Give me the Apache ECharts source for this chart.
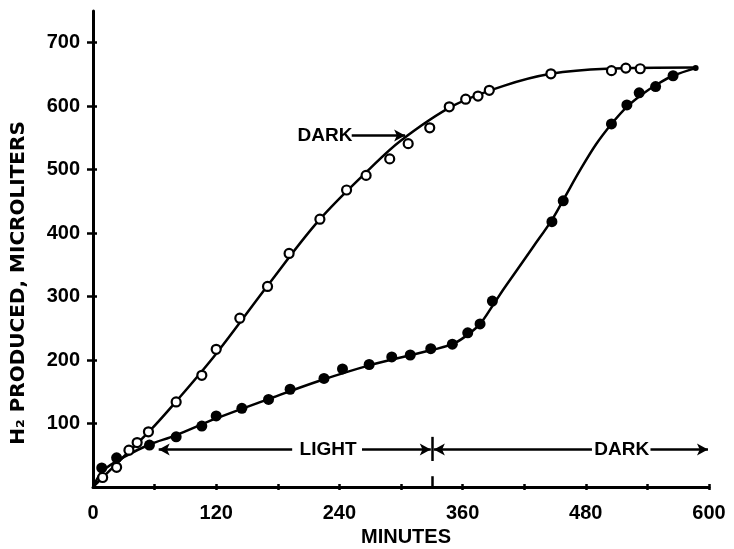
<!DOCTYPE html>
<html>
<head>
<meta charset="utf-8">
<script src="https://cdn.jsdelivr.net/npm/echarts@6/dist/echarts.min.js"></script>
<style>
  html, body { margin: 0; padding: 0; background: #fff; }
  #chart { width: 734px; height: 549px; }
</style>
</head>
<body>
<div id="chart"></div>
<script>
// measured points, open circles (kept in the dark)
const darkPts = [[9.4,15],[23,31],[35,58],[43,70],[54,87],[81,134],[106,176],[120,217],[143,266],[170,316],[191,368],[221,422],[247,468],[266,491],[289,517],[307,541],[328,566],[347,599],[363,611],[375,616],[386,625],[446,651],[505,656],[519,660],[533,659]];
// measured points, filled circles (light, then dark after 330 min)
const lightDarkPts = [[8.5,30],[23,46],[55,66],[81,79],[106,96],[120,112],[145,124],[171,138],[192,154],[225,171],[243,186],[269,193],[291,205],[309,208],[329,218],[350,225],[365,243],[377,257],[389,293],[447,418],[458,451],[505,572],[520,602],[532,621],[548,631],[565,648]];

// hand drawn curves
const darkCurve = [[0,0],[25,40],[55,88],[80,133],[120,210],[170,317],[220,420],[270,502],[300,546],[350,600],[400,632],[446,651],[500,659],[587,661]];
const lightDarkCurve = [[0,0],[10,26],[30,47],[55,67],[80,81],[120,108],[170,138],[220,167],[270,192],[320,212],[350,225],[365,240],[377,257],[389,285],[400,312],[413,342],[429,379],[447,421],[460,458],[474,498],[490,540],[505,572],[520,599],[535,619],[550,635],[565,648],[587,660]];
const endPoint = [[587,660]];

const xTicks = [60,120,180,240,300,360,420,480,540,600];
const xLabels = [0,120,240,360,480,600];
const yTicks = [100,200,300,400,500,600,700];
const switchMin = 330;

const tickFont = { color: '#000', fontFamily: 'Liberation Sans', fontWeight: 'bold', fontSize: 20 };
const annFont = { color: '#000', fontFamily: 'Liberation Sans', fontWeight: 'bold', fontSize: 19 };

let chart = echarts.init(document.getElementById('chart'));

function label(text, x, y) {
  return {
    coord: [x, y], value: text, symbol: 'rect', symbolSize: [1, 1],
    itemStyle: { color: 'rgba(0,0,0,0)' },
    label: Object.assign({ show: true, position: 'inside', formatter: text }, annFont)
  };
}

let option = {
  animation: false,
  backgroundColor: '#fff',
  grid: { left: 93, right: 25, top: 11, bottom: 62 },
  xAxis: [
    {
      type: 'value', min: 0, max: 600,
      splitLine: { show: false },
      axisLine: { lineStyle: { color: '#000', width: 3 } },
      axisTick: { show: true, length: 3, customValues: xTicks, lineStyle: { color: '#000', width: 2.5 } },
      axisLabel: Object.assign({ margin: 16, customValues: xLabels }, tickFont)
    },
    {
      type: 'value', min: 0, max: 600, position: 'bottom',
      splitLine: { show: false },
      axisLine: { show: false },
      axisTick: { show: true, inside: true, length: 3, customValues: xTicks, lineStyle: { color: '#000', width: 2.5 } },
      axisLabel: { show: false }
    }
  ],
  yAxis: [
    {
      type: 'value', min: 0, max: 750,
      splitLine: { show: false },
      axisLine: { lineStyle: { color: '#000', width: 3 } },
      axisTick: { show: true, length: 6, customValues: yTicks, lineStyle: { color: '#000', width: 2.5 } },
      axisLabel: Object.assign({ margin: 13, customValues: yTicks }, tickFont)
    },
    {
      type: 'value', min: 0, max: 750, position: 'left',
      splitLine: { show: false },
      axisLine: { show: false },
      axisTick: { show: true, inside: true, length: 4, customValues: yTicks, lineStyle: { color: '#000', width: 2.5 } },
      axisLabel: { show: false }
    }
  ],
  graphic: [
    {
      type: 'text', x: 19, y: 283, rotation: Math.PI / 2,
      style: {
        text: 'H₂ PRODUCED, MICROLITERS', fill: '#000',
        font: 'bold 20px "DejaVu Sans"',
        textAlign: 'center', textVerticalAlign: 'middle', align: 'center', verticalAlign: 'middle'
      }
    },
    {
      type: 'text', x: 406, y: 537,
      style: {
        text: 'MINUTES', fill: '#000',
        font: 'bold 20px "Liberation Sans"',
        textAlign: 'center', textVerticalAlign: 'middle', align: 'center', verticalAlign: 'middle'
      }
    }
  ],
  series: [
    {
      name: 'dark curve', type: 'line', data: darkCurve, smooth: 0.35,
      showSymbol: false, lineStyle: { color: '#000', width: 2.5 }, z: 2
    },
    {
      name: 'light-dark curve', type: 'line', data: lightDarkCurve, smooth: 0.35,
      showSymbol: false, lineStyle: { color: '#000', width: 2.5 }, z: 2
    },
    {
      name: 'Dark', type: 'scatter', data: darkPts, symbol: 'circle', symbolSize: 9,
      itemStyle: { color: '#fff', borderColor: '#000', borderWidth: 2.2, opacity: 1 }, z: 3
    },
    {
      name: 'Light then dark', type: 'scatter', data: lightDarkPts, symbol: 'circle', symbolSize: 11,
      itemStyle: { color: '#000', opacity: 1 }, z: 3,
      markLine: {
        silent: true, symbol: ['none', 'none'], symbolSize: [9, 11],
        lineStyle: { color: '#000', width: 2.5, type: 'solid', opacity: 1 },
        label: { show: false },
        data: [
          [{ coord: [64, 59], symbol: 'arrow' }, { coord: [194, 59] }],
          [{ coord: [262, 59] }, { coord: [switchMin - 1, 59], symbol: 'arrow' }],
          [{ coord: [switchMin, 41] }, { coord: [switchMin, 79] }],
          [{ coord: [switchMin, 0] }, { coord: [switchMin, 17] }],
          [{ coord: [switchMin + 2, 59], symbol: 'arrow' }, { coord: [486, 59] }],
          [{ coord: [543, 59] }, { coord: [599, 59], symbol: 'arrow' }],
          [{ coord: [252, 554] }, { coord: [304, 554], symbol: 'arrow' }]
        ]
      },
      markPoint: {
        silent: true,
        data: [
          label('LIGHT', 229, 59),
          label('DARK', 515, 59),
          label('DARK', 226, 554)
        ]
      }
    },
    {
      name: 'end', type: 'scatter', data: endPoint, symbol: 'circle', symbolSize: 6,
      itemStyle: { color: '#000', opacity: 1 }, z: 3
    }
  ]
};

chart.setOption(option);
window.onresize = function () { chart.resize(); };
</script>
</body>
</html>
